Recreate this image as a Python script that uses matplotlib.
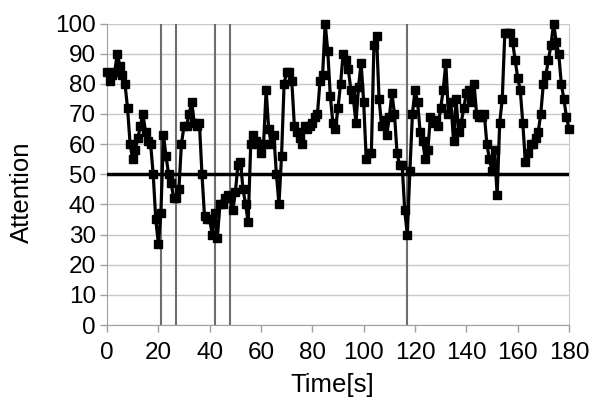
import matplotlib
matplotlib.use('Agg')
import matplotlib.pyplot as plt
import numpy as np

# attention value, one sample per second (0..180 s)
attention = [
    84, 81, 83, 84, 90, 86, 83, 80, 72, 60,
    55, 58, 62, 66, 70, 64, 61, 60, 50, 35,
    27, 37, 63, 56, 50, 47, 42, 42, 45, 60,
    66, 66, 70, 74, 67, 66, 67, 50, 36, 35,
    35, 30, 37, 29, 40, 40, 42, 43, 42, 38,
    44, 53, 54, 45, 40, 34, 60, 63, 61, 60,
    57, 60, 78, 65, 60, 63, 50, 40, 56, 80,
    84, 84, 81, 66, 64, 62, 60, 66, 65, 66,
    67, 69, 70, 81, 83, 100, 91, 76, 67, 65,
    72, 80, 90, 88, 85, 78, 75, 67, 79, 87,
    74, 55, 57, 57, 93, 96, 75, 66, 68, 63,
    69, 77, 70, 57, 53, 53, 38, 30, 51, 70,
    78, 74, 64, 61, 55, 58, 69, 67, 68, 66,
    72, 78, 87, 70, 74, 61, 75, 64, 67, 72,
    77, 78, 74, 80, 70, 69, 69, 70, 60, 55,
    51, 58, 43, 67, 75, 97, 97, 97, 94, 88,
    82, 78, 67, 54, 57, 60, 60, 62, 64, 70,
    80, 83, 88, 93, 100, 94, 90, 80, 75, 69,
    65, 61,
]
attention = attention[:181]
time_s = np.arange(len(attention))

event_times = [21, 27, 42, 48, 117]
threshold = 50

plt.rcParams['font.family'] = ['Liberation Sans', 'DejaVu Sans']

fig = plt.figure(figsize=(5.9, 3.98), dpi=100)
ax = fig.add_axes([107/590, 1-325/398, 462/590, (325-23.5)/398])

ax.set_xlim(0, 180)
ax.set_ylim(0, 100)
ax.set_yticks(np.arange(0, 101, 10))
ax.set_xticks(np.arange(0, 181, 20))
ax.yaxis.grid(True, color='#c8c8c8', linewidth=1)
ax.set_axisbelow(True)

ax.spines['top'].set_visible(False)
ax.spines['right'].set_color('#c8c8c8')
ax.spines['left'].set_color('#a0a0a0')
ax.spines['bottom'].set_color('#a0a0a0')

ax.tick_params(axis='both', colors='#a0a0a0', labelcolor='black', labelsize=17.5, length=5, width=1)
ax.tick_params(axis='y', pad=3)
ax.tick_params(axis='x', pad=7)

for t in event_times:
    ax.axvline(t, color='#6e6e6e', linewidth=1.5, zorder=2)
ax.axhline(threshold, color='black', linewidth=2.5, zorder=3)

ax.plot(time_s, attention, color='black', linewidth=2.3, marker='s', markersize=5.2,
        markeredgecolor='black', markerfacecolor='black', zorder=4, clip_on=False)

fig.text(22/590, 1-192/398, 'Attention', rotation=90, ha='center', va='center', fontsize=18.5)
fig.text(332/590, 1-385/398, 'Time[s]', ha='center', va='center', fontsize=18.5)

fig.savefig('out.png', dpi=100)
